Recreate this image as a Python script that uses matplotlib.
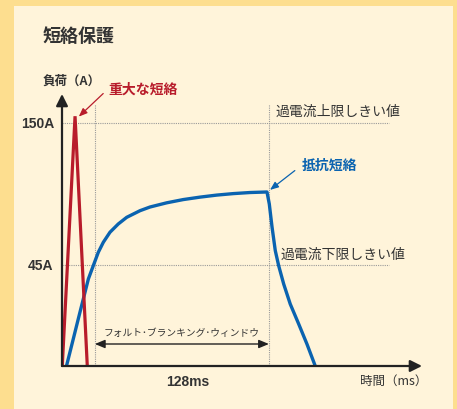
import numpy as np
import matplotlib
matplotlib.use("Agg")
import matplotlib.pyplot as plt
from matplotlib.patches import Rectangle

plt.rcParams['font.family'] = ['Noto Sans CJK JP', 'DejaVu Sans']

# data (time in ms, load in A)
severe_t = [0.2, 9.6, 18.6]
severe_a = [0, 155, 0]

resist_t = [3.3, 8.3, 13.2, 19.4, 23.0, 26.7, 30.4, 35.3, 41.4, 47.6, 57.4, 64.7, 77.0,
            89.2, 101.5, 113.8, 126.0, 138.3, 150.8,
            152.5, 154.5, 156.9, 159.4, 163.1, 167.9, 174.1, 180.2, 186.3]
resist_a = [0, 12.1, 24.0, 38.9, 44.8, 54.6, 62.0, 69.4, 75.5, 80.4, 85.3, 88.0, 91.1,
            93.5, 95.3, 96.8, 97.9, 98.7, 99.1,
            90.2, 73.3, 55.8, 44.8, 36.6, 27.7, 18.8, 9.8, 0]

upper_limit = 150
lower_limit = 45
window_start = 24.2
window_len = 128
window_end = window_start + window_len

W, H = 457, 410
BG_OUT = '#FDDE8F'
BG_IN = '#FFF4DA'
RED = '#B81C2B'
BLUE = '#0A63B0'
DARK = '#333333'
GRID = '#9a9a9a'
LATIN = ['Liberation Sans', 'DejaVu Sans']


def px(x, y):
    return x / W, 1 - y / H


# the y axis is drawn schematically: 45A and 150A are not linearly spaced
ya = np.array([-1000, 0, 45, 150, 1000])
yp = np.array([-1000 * 2.238, 0, 100.7, 243, 243 + 850 * 1.355])


def fwd(a):
    return np.interp(a, ya, yp)


def inv(p):
    return np.interp(p, yp, ya)


fig = plt.figure(figsize=(W / 100, H / 100), dpi=100, facecolor=BG_OUT)
fig.patches.append(Rectangle(px(14, 410), (453 - 14) / W, (410 - 7) / H,
                             transform=fig.transFigure, facecolor=BG_IN,
                             edgecolor='none', zorder=-10))

x0, y0 = px(62, 367)
x1, y1 = px(422, 95)
ax = fig.add_axes([x0, y0, x1 - x0, y1 - y0])
ax.set_zorder(1)
ax.patch.set_alpha(0)
ax.set_yscale('function', functions=(fwd, inv))
tmax = (422 - 62) * 128 / 174
ax.set_xlim(0, tmax)
ax.set_ylim(0, inv(272))
for s in ax.spines.values():
    s.set_visible(False)
ax.set_xticks([])
ax.set_yticks([])
ax.minorticks_off()

# threshold and window guides
guide_end = (389 - 62) * 128 / 174
for lvl in (upper_limit, lower_limit):
    ax.plot([0, guide_end], [lvl, lvl], ls=(0, (1, 1)), color=GRID, lw=0.8, zorder=1)
vtop = inv(262)
for tv in (window_start, window_end):
    ax.plot([tv, tv], [0, vtop], ls=(0, (1, 1)), color=GRID, lw=0.8, zorder=1)

# curves
ax.plot(resist_t, resist_a, color=BLUE, lw=2.4, solid_joinstyle='round', zorder=3)
ax.plot(severe_t, severe_a, color=RED, lw=2.3, solid_joinstyle='miter', zorder=4)

# axes with arrows
ax.annotate('', xy=(1, 0), xytext=(0, 0), xycoords='axes fraction',
            arrowprops=dict(arrowstyle='-|>,head_length=0.7,head_width=0.35',
                            color='#222222', lw=1.6, shrinkA=0, shrinkB=0), zorder=5)
ax.annotate('', xy=(0, 1), xytext=(0, 0), xycoords='axes fraction',
            arrowprops=dict(arrowstyle='-|>,head_length=0.7,head_width=0.35',
                            color='#222222', lw=1.6, shrinkA=0, shrinkB=0), zorder=5)

# blanking window double arrow
yw = inv(367 - 345)
ax.annotate('', xy=(window_end, yw), xytext=(window_start, yw),
            arrowprops=dict(arrowstyle='<|-|>,head_length=0.6,head_width=0.25',
                            color='#222222', lw=1.0, shrinkA=0, shrinkB=0))
ax.text((window_start + window_end) / 2, inv(367 - 333), 'フォルト･ブランキング･ウィンドウ',
        ha='center', va='center', fontsize=7, color=DARK)

# callouts
ax.annotate('重大な短絡', xy=(severe_t[1] + 2, severe_a[1] - 1), xytext=px(108, 90),
            textcoords='figure fraction', fontsize=10, fontweight='bold', color=RED,
            va='center', ha='left',
            arrowprops=dict(arrowstyle='-|>,head_length=0.5,head_width=0.2', color=RED,
                            lw=0.9, shrinkA=2, shrinkB=1, relpos=(0, 0.5)))
ax.annotate('抵抗短絡', xy=(window_end, 100), xytext=px(302, 166),
            textcoords='figure fraction', fontsize=10, fontweight='bold', color=BLUE,
            va='center', ha='left',
            arrowprops=dict(arrowstyle='-|>,head_length=0.5,head_width=0.2', color=BLUE,
                            lw=0.9, shrinkA=4, shrinkB=1, relpos=(0, 0.5)))

fig.text(*px(276, 112), '過電流上限しきい値', fontsize=10, color=DARK, va='center')
fig.text(*px(281, 255), '過電流下限しきい値', fontsize=10, color=DARK, va='center')

# labels
fig.text(*px(43, 37), '短絡保護', fontsize=13, fontweight='bold', color=DARK, va='center')
fig.text(*px(43, 81), '負荷（A）', fontsize=9, fontweight='bold', color=DARK, va='center')
fig.text(*px(54, 124), '150A', fontsize=10, fontweight='bold', color=DARK, va='center',
         ha='right', family=LATIN)
fig.text(*px(53, 266), '45A', fontsize=10, fontweight='bold', color=DARK, va='center',
         ha='right', family=LATIN)
fig.text(*px(188, 382), f'{window_len}ms', fontsize=10, fontweight='bold', color=DARK,
         va='center', ha='center', family=LATIN)
fig.text(*px(427, 381), '時間（ms）', fontsize=9, color=DARK, va='center', ha='right')

fig.savefig('out.png', dpi=100, facecolor=BG_OUT)
